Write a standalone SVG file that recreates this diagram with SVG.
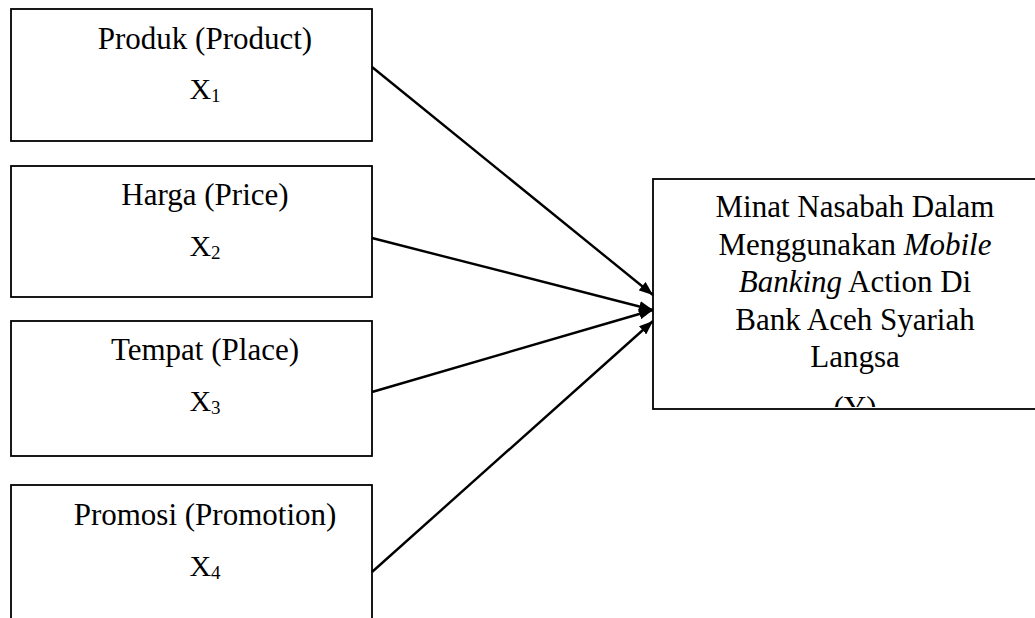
<svg xmlns="http://www.w3.org/2000/svg" width="1035" height="618" viewBox="0 0 1035 618">
<style>
.box{fill:#fff;stroke:#000;stroke-width:1.8}
.t{font-family:"Liberation Serif","Times New Roman",serif;font-size:31px;fill:#000;text-anchor:middle}
.x{font-family:"Liberation Serif","Times New Roman",serif;font-size:30px;fill:#000;text-anchor:middle}
.sub{font-size:19px}
.c{stroke:#000;stroke-width:2.4;fill:none;marker-end:url(#ah)}
</style>
<defs>
<marker id="ah" viewBox="0 0 14 11" refX="14" refY="5.5" markerUnits="userSpaceOnUse" markerWidth="14" markerHeight="11" orient="auto">
<path d="M0,0 L14,5.5 L0,11 Z" fill="#000"/>
</marker>
<clipPath id="yclip"><rect x="653" y="179" width="390" height="228"/></clipPath>
</defs>
<rect width="1035" height="618" fill="#fff"/>
<g id="node-x1">
<rect class="box" x="11" y="9" width="361" height="132"/>
<text class="t" x="205" y="49">Produk (Product)</text>
<text class="x" x="205" y="99">X<tspan class="sub" dy="3">1</tspan></text>
</g>
<g id="node-x2">
<rect class="box" x="11" y="166" width="361" height="131"/>
<text class="t" x="205" y="205">Harga (Price)</text>
<text class="x" x="205" y="256">X<tspan class="sub" dy="3">2</tspan></text>
</g>
<g id="node-x3">
<rect class="box" x="11" y="321" width="361" height="135"/>
<text class="t" x="205" y="360">Tempat (Place)</text>
<text class="x" x="205" y="411">X<tspan class="sub" dy="3">3</tspan></text>
</g>
<g id="node-x4">
<rect class="box" x="11" y="485" width="361" height="150"/>
<text class="t" x="205" y="525">Promosi (Promotion)</text>
<text class="x" x="205" y="576">X<tspan class="sub" dy="3">4</tspan></text>
</g>
<g id="node-y">
<rect class="box" x="653" y="179" width="400" height="230"/>
<text class="t" x="855" y="217">Minat Nasabah Dalam</text>
<text class="t" x="855" y="255">Menggunakan <tspan font-style="italic">Mobile</tspan></text>
<text class="t" x="855" y="292"><tspan font-style="italic">Banking</tspan> Action Di</text>
<text class="t" x="855" y="330">Bank Aceh Syariah</text>
<text class="t" x="855" y="367">Langsa</text>
<text class="t" x="855" y="418" clip-path="url(#yclip)">(Y)</text>
</g>
<g id="connectors">
<line class="c" x1="372" y1="67" x2="653" y2="295"/>
<line class="c" x1="372" y1="238" x2="653" y2="310"/>
<line class="c" x1="372" y1="392" x2="653" y2="310"/>
<line class="c" x1="372" y1="572" x2="653" y2="321"/>
</g>
</svg>
